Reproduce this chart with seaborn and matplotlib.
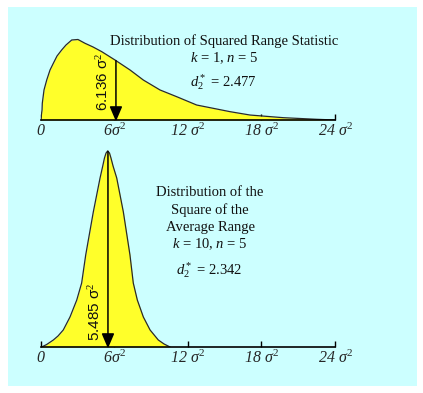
import numpy as np
import pandas as pd
import matplotlib
matplotlib.use("Agg")
import matplotlib.pyplot as plt
from matplotlib.patches import Rectangle
import seaborn as sns

# ---------------- data ----------------
# Distribution of squared range statistic, k = 1, n = 5  (x in units of sigma^2)
x_top = [0, 0.11, 0.13, 0.27, 0.49, 0.76, 1.03, 1.33, 1.71, 2.06, 2.53, 3.04,
         3.61, 4.27, 4.98, 6.06, 7.29, 8.37, 9.73, 11.09, 12.72, 13.81, 15.44,
         17.07, 19.79, 22.5, 24]
d_top = [0, 0.0143, 0.0239, 0.0429, 0.0571, 0.0714, 0.081, 0.0914, 0.100, 0.1071,
         0.1143, 0.115, 0.1096, 0.1043, 0.0976, 0.0857, 0.0714, 0.0571, 0.0429,
         0.0333, 0.0214, 0.0176, 0.0119, 0.0071, 0.0033, 0.001, 0]

# Distribution of the square of the average range, k = 10, n = 5
x_bot = [0.08, 0.49, 1.03, 1.41, 1.84, 2.39, 2.94, 3.34, 3.67, 4.29, 4.84, 5.06,
         5.20, 5.33, 5.46, 5.61, 5.73, 5.90, 6.2, 6.74, 7.28, 7.55, 7.88, 8.37,
         8.92, 9.59, 10.06, 10.55]
d_bot = [0, 0.0036, 0.010, 0.0157, 0.0243, 0.0429, 0.0671, 0.0914, 0.1314, 0.1929,
         0.2414, 0.2586, 0.270, 0.2771, 0.280, 0.2771, 0.270, 0.2586, 0.2414,
         0.1929, 0.1314, 0.0914, 0.0671, 0.0429, 0.0243, 0.010, 0.0043, 0]

mean_top = 6.136
mean_bot = 5.485
tick_vals = [0, 6, 12, 18, 24]
tick_labels = ["0", "6σ$^2$", "12 σ$^2$", "18 σ$^2$", "24 σ$^2$"]

top_text = ["Distribution of Squared Range Statistic", "$k$ = 1, $n$ = 5"]
top_d2 = "$d_2^*$ = 2.477"
bot_text = ["Distribution of the", "Square of the", "Average Range", "$k$ = 10, $n$ = 5"]
bot_d2 = "$d_2^*$ = 2.342"
top_mean_label = "6.136 σ$^2$"
bot_mean_label = "5.485 σ$^2$"

# ---------------- style ----------------
sns.set_theme(style="white")
plt.rcParams["font.family"] = ["Liberation Serif", "DejaVu Serif"]
plt.rcParams["mathtext.fontset"] = "custom"
plt.rcParams["mathtext.rm"] = "Liberation Serif"
plt.rcParams["mathtext.it"] = "Liberation Serif:italic"
plt.rcParams["mathtext.bf"] = "Liberation Serif:bold"

W, H = 423, 393
fig = plt.figure(figsize=(W / 100, H / 100), dpi=100)
fig.patch.set_facecolor("white")


def fx(px):
    return px / W


def fy(py):
    return 1 - py / H


fig.patches.append(Rectangle((fx(8), fy(386)), fx(417) - fx(8), (386 - 7) / H,
                             transform=fig.transFigure, facecolor="#CCFFFF",
                             edgecolor="none", zorder=-5))

px_per_unit = 700.0  # vertical pixels per density unit
x0_px, x1_px = 40.7, 335.0
yellow = "#FFFF2A"


def make_panel(axis_py, ymax, xs, ds, mean, mean_label, label_px):
    ax = fig.add_axes([fx(x0_px), fy(axis_py), (x1_px - x0_px) / W,
                       ymax * px_per_unit / H])
    ax.set_facecolor("none")
    ax.patch.set_alpha(0)
    df = pd.DataFrame({"x": xs, "d": ds})
    ax.fill_between(df["x"], 0, df["d"], color=yellow, lw=0, zorder=1)
    sns.lineplot(data=df, x="x", y="d", ax=ax, color="#2a2a2a", lw=0.9,
                 sort=False, zorder=2)
    ax.set_xlim(0, 24)
    ax.set_ylim(0, ymax)
    for s in ["top", "left", "right"]:
        ax.spines[s].set_visible(False)
    ax.spines["bottom"].set_color("black")
    ax.spines["bottom"].set_linewidth(1.2)
    ax.spines["bottom"].set_zorder(3)
    ax.set_yticks([])
    ax.set_xticks(tick_vals)
    ax.set_xticklabels(tick_labels, fontstyle="italic", fontsize=11.5,
                       family="Liberation Serif")
    ax.tick_params(axis="x", direction="in", length=4, width=1, color="black",
                   pad=2, bottom=True)
    ax.set_xlabel("")
    ax.set_ylabel("")
    top_d = np.interp(mean, xs, ds)
    ax.annotate("", xy=(mean, -0.002), xytext=(mean, top_d),
                arrowprops=dict(arrowstyle="-|>,head_length=0.75,head_width=0.32",
                                color="black", lw=1.1,
                                mutation_scale=12, shrinkA=0, shrinkB=0),
                annotation_clip=False, zorder=4)
    fig.text(fx(label_px[0]), fy(label_px[1]), mean_label, rotation=90,
             ha="center", va="center", fontsize=11,
             family="Liberation Sans", color="#111111")
    return ax


ax1 = make_panel(120, 0.15, x_top, d_top, mean_top, top_mean_label, (103, 82))
ax2 = make_panel(347, 0.30, x_bot, d_bot, mean_bot, bot_mean_label, (95, 312))

txt_kw = dict(ha="center", va="center", fontsize=10.5, color="#111111")
fig.text(fx(224), fy(41), top_text[0], **txt_kw)
fig.text(fx(224), fy(58), top_text[1], **txt_kw)
fig.text(fx(223), fy(82), top_d2, **txt_kw)
for t, y in zip(bot_text, [193, 210, 227, 244]):
    fig.text(fx(210), fy(y), t, **txt_kw)
fig.text(fx(209), fy(270), bot_d2, **txt_kw)

fig.savefig("out.png", dpi=100)
